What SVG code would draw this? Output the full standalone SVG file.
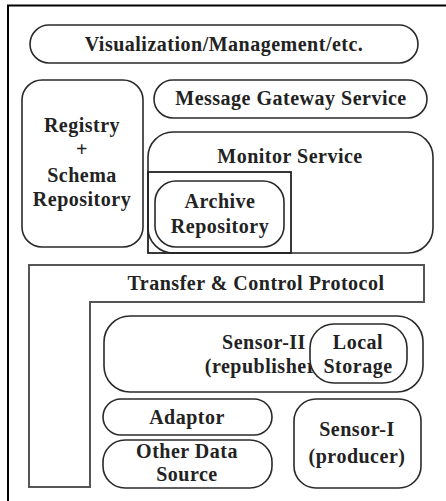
<svg xmlns="http://www.w3.org/2000/svg" width="446" height="501" viewBox="0 0 446 501">
<style>
.b{fill:#fff;stroke:#2a2a2a;stroke-width:1.6}
.t{font-family:"Liberation Serif","Times New Roman",serif;font-weight:bold;font-size:20px;letter-spacing:0.5px;fill:#222;text-anchor:middle}
</style>
<rect x="0" y="0" width="446" height="501" fill="#fff"/>
<path d="M8,501 V5.5 H446" fill="none" stroke="#000" stroke-width="2"/>
<g id="visualization"><rect class="b" x="30" y="25" width="388" height="38" rx="19"/><text class="t" x="224" y="51">Visualization/Management/etc.</text></g>
<g id="registry"><rect class="b" x="22" y="80" width="121" height="167" rx="20"/>
<text class="t" x="82" y="132">Registry</text><text class="t" x="82" y="156">+</text><text class="t" x="82" y="182">Schema</text><text class="t" x="82" y="206">Repository</text></g>
<g id="gateway"><rect class="b" x="154" y="80" width="273" height="38" rx="19"/><text class="t" x="291" y="105">Message Gateway Service</text></g>
<g id="monitor"><rect class="b" x="148" y="132" width="285" height="121" rx="25"/><text class="t" x="290" y="163">Monitor Service</text>
<rect x="148" y="172" width="143" height="81" fill="none" stroke="#222" stroke-width="1.8"/></g>
<g id="archive"><rect class="b" x="155" y="181" width="129" height="66" rx="21"/><text class="t" x="220" y="208">Archive</text><text class="t" x="220" y="233">Repository</text></g>
<g id="transfer"><path d="M29,265 H424 V302 H90 V487 H29 Z" fill="#fff" stroke="#555" stroke-width="2"/><text class="t" x="256" y="290">Transfer &amp; Control Protocol</text></g>
<g id="sensor2"><rect class="b" x="104" y="316" width="319" height="76" rx="26"/><text class="t" x="264" y="349">Sensor-II</text><text class="t" x="264" y="373">(republisher)</text></g>
<g id="localstorage"><rect class="b" x="310" y="324" width="97" height="59" rx="24"/><text class="t" x="358" y="349">Local</text><text class="t" x="358" y="373">Storage</text></g>
<g id="adaptor"><rect class="b" x="103" y="399" width="169" height="36" rx="18"/><text class="t" x="187" y="424">Adaptor</text></g>
<g id="otherdata"><rect class="b" x="103" y="440" width="169" height="48" rx="22"/><text class="t" x="187" y="458">Other Data</text><text class="t" x="187" y="481">Source</text></g>
<g id="sensor1"><rect class="b" x="294" y="399" width="127" height="89" rx="22"/><text class="t" x="357" y="436">Sensor-I</text><text class="t" x="357" y="463">(producer)</text></g>
<g id="connectors"></g>
</svg>
